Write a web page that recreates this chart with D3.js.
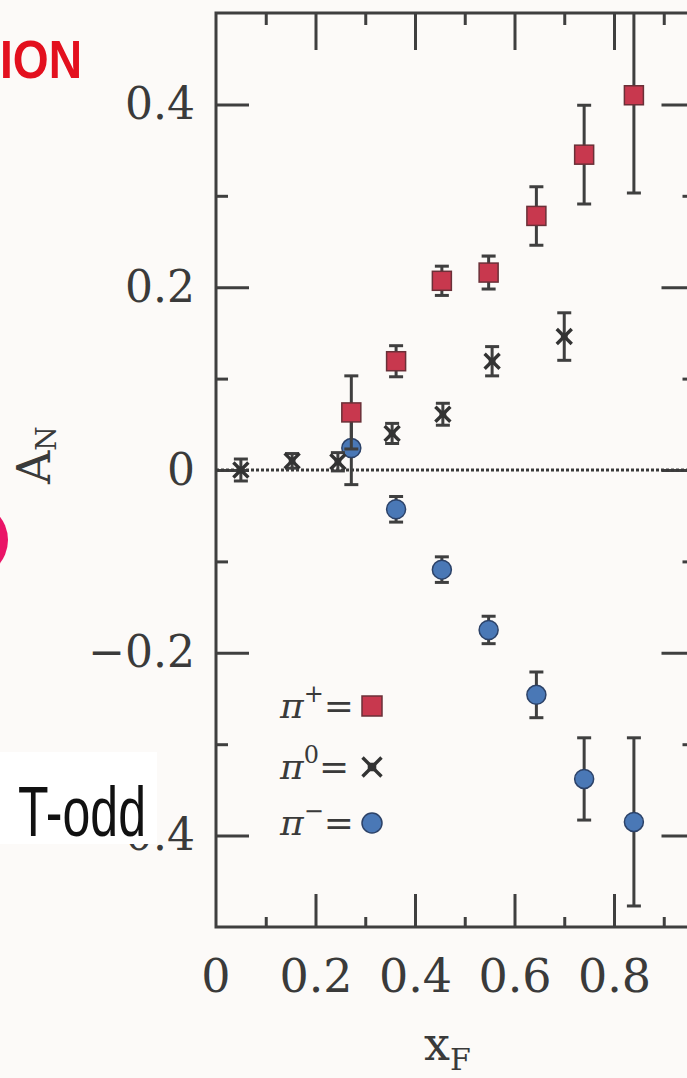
<!DOCTYPE html>
<html lang="en">
<head>
<meta charset="utf-8">
<title>A_N vs x_F</title>
<script src="https://cdn.jsdelivr.net/npm/d3@7"></script>
<style>
  body { margin: 0; background: #fcfaf8; }
  svg { display: block; }
  .tick line { stroke: #3f3f3f; stroke-width: 3; }
  .tick text { font-family: "DejaVu Serif", serif; fill: #3a3a3a; }
</style>
</head>
<body>
<div id="chart"></div>
<script>
// data
const xPi = [0.272, 0.362, 0.454, 0.548, 0.644, 0.74, 0.84];
const piPlus = [0.063, 0.119, 0.207, 0.216, 0.278, 0.345, 0.41];
const piPlusErr = [0.04, 0.017, 0.016, 0.018, 0.032, 0.054, 0.107];
const piMinus = [0.024, -0.043, -0.109, -0.175, -0.246, -0.338, -0.385];
const piMinusErr = [0.04, 0.014, 0.014, 0.015, 0.025, 0.045, 0.092];
const xPi0 = [0.05, 0.153, 0.245, 0.354, 0.456, 0.555, 0.70];
const piZero = [0, 0.01, 0.009, 0.04, 0.061, 0.119, 0.146];
const piZeroErr = [0.012, 0.008, 0.01, 0.011, 0.012, 0.016, 0.026];

const xMajor = [0, 0.2, 0.4, 0.6, 0.8];
const xMinor = [0.1, 0.3, 0.5, 0.7, 0.9];
const yMajor = [-0.4, -0.2, 0, 0.2, 0.4];
const yMinor = [-0.3, -0.1, 0.1, 0.3];
const legendNames = ["+", "0", "\u2212"];

const width = 687, height = 1078;
const ink = "#3f3f3f";

const svg = d3.select("#chart").append("svg")
    .attr("width", width)
    .attr("height", height);

const x = d3.scaleLinear().domain([0, 1]).range([216, 713.5]);
const y = d3.scaleLinear().domain([-0.5, 0.5]).range([927, 13]);

const fmt = d => d === 0 ? "0" : d3.format(".1f")(d);

// frame
svg.append("rect")
    .attr("x", x(0)).attr("y", y(0.5))
    .attr("width", x(1) - x(0)).attr("height", y(-0.5) - y(0.5))
    .attr("fill", "none").attr("stroke", ink).attr("stroke-width", 3);

// bottom axis
svg.append("g")
    .attr("transform", `translate(0,${y(-0.5)})`)
    .call(d3.axisBottom(x).tickValues(xMajor.filter(d => d > 0)).tickSize(-33).tickPadding(32).tickFormat(fmt))
    .call(g => g.select(".domain").remove())
    .selectAll("text").attr("font-size", 46);
svg.append("g")
    .attr("transform", `translate(0,${y(-0.5)})`)
    .call(d3.axisBottom(x).tickValues(xMinor).tickSize(-10).tickFormat(""))
    .call(g => g.select(".domain").remove());
// "0" label at the corner
svg.append("text")
    .attr("x", x(0)).attr("y", y(-0.5) + 65)
    .attr("text-anchor", "middle")
    .attr("font-family", "DejaVu Serif").attr("font-size", 46).attr("fill", "#3a3a3a")
    .text(fmt(xMajor[0]));

// top axis
svg.append("g")
    .attr("transform", `translate(0,${y(0.5)})`)
    .call(d3.axisTop(x).tickValues(xMajor.filter(d => d > 0)).tickSize(-37).tickFormat(""))
    .call(g => g.select(".domain").remove());
svg.append("g")
    .attr("transform", `translate(0,${y(0.5)})`)
    .call(d3.axisTop(x).tickValues(xMinor).tickSize(-12).tickFormat(""))
    .call(g => g.select(".domain").remove());

// left axis
svg.append("g")
    .attr("transform", `translate(${x(0)},0)`)
    .call(d3.axisLeft(y).tickValues(yMajor).tickSize(-33).tickPadding(21).tickFormat(fmt))
    .call(g => g.select(".domain").remove())
    .selectAll("text").attr("font-size", 44);
svg.append("g")
    .attr("transform", `translate(${x(0)},0)`)
    .call(d3.axisLeft(y).tickValues(yMinor).tickSize(-12).tickFormat(""))
    .call(g => g.select(".domain").remove());

// right axis
svg.append("g")
    .attr("transform", `translate(${x(1)},0)`)
    .call(d3.axisRight(y).tickValues(yMajor).tickSize(-52).tickFormat(""))
    .call(g => g.select(".domain").remove());
svg.append("g")
    .attr("transform", `translate(${x(1)},0)`)
    .call(d3.axisRight(y).tickValues(yMinor).tickSize(-31).tickFormat(""))
    .call(g => g.select(".domain").remove());

// zero line
svg.append("line")
    .attr("x1", x(0)).attr("x2", x(1))
    .attr("y1", y(0)).attr("y2", y(0))
    .attr("stroke", "#3a3a3a").attr("stroke-width", 3.2)
    .attr("stroke-dasharray", "3,2");

// axis titles
const yTitle = svg.append("text")
    .attr("transform", `translate(50,484) rotate(-90)`)
    .attr("font-family", "DejaVu Serif").attr("font-size", 46).attr("fill", "#3a3a3a");
yTitle.append("tspan").text("A");
yTitle.append("tspan").attr("font-size", 28).attr("dy", 6).text("N");

const xTitle = svg.append("text")
    .attr("x", 424).attr("y", 1060)
    .attr("font-family", "DejaVu Serif").attr("font-size", 46).attr("fill", "#3a3a3a");
xTitle.append("tspan").text("x");
xTitle.append("tspan").attr("font-size", 30).attr("dy", 10).text("F");

// clip for data
svg.append("clipPath").attr("id", "plot-clip")
  .append("rect")
    .attr("x", x(0)).attr("y", y(0.5))
    .attr("width", x(1) - x(0)).attr("height", y(-0.5) - y(0.5));

const plot = svg.append("g").attr("clip-path", "url(#plot-clip)");

function errorBars(xs, vals, errs) {
    const g = plot.append("g").attr("stroke", ink).attr("stroke-width", 3);
    xs.forEach((xv, i) => {
        const cx = x(xv), lo = y(vals[i] - errs[i]), hi = y(vals[i] + errs[i]);
        g.append("line").attr("x1", cx).attr("x2", cx).attr("y1", lo).attr("y2", hi);
        g.append("line").attr("x1", cx - 7).attr("x2", cx + 7).attr("y1", lo).attr("y2", lo);
        g.append("line").attr("x1", cx - 7).attr("x2", cx + 7).attr("y1", hi).attr("y2", hi);
    });
}

function square(g, cx, cy, s) {
    g.append("rect")
        .attr("x", cx - s / 2).attr("y", cy - s / 2)
        .attr("width", s).attr("height", s)
        .attr("fill", "#c8384e").attr("stroke", "#6a3038").attr("stroke-width", 1.5);
}
function circle(g, cx, cy, r) {
    g.append("circle")
        .attr("cx", cx).attr("cy", cy).attr("r", r)
        .attr("fill", "#4a78b6").attr("stroke", "#2c4268").attr("stroke-width", 1.5);
}
function cross(g, cx, cy, s) {
    const h = s / 2;
    g.append("path")
        .attr("d", `M${cx - h},${cy - h}L${cx + h},${cy + h}M${cx - h},${cy + h}L${cx + h},${cy - h}`)
        .attr("stroke", "#333").attr("stroke-width", 3.4).attr("fill", "none");
    g.append("rect")
        .attr("x", cx - h * 0.45).attr("y", cy - h * 0.45)
        .attr("width", h * 0.9).attr("height", h * 0.9)
        .attr("fill", "#333");
}

// pi-
errorBars(xPi, piMinus, piMinusErr);
const gMinus = plot.append("g");
xPi.forEach((xv, i) => circle(gMinus, x(xv), y(piMinus[i]), 9.5));

// pi0
errorBars(xPi0, piZero, piZeroErr);
const gZero = plot.append("g");
xPi0.forEach((xv, i) => cross(gZero, x(xv), y(piZero[i]), 15));

// pi+
errorBars(xPi, piPlus, piPlusErr);
const gPlus = plot.append("g");
xPi.forEach((xv, i) => square(gPlus, x(xv), y(piPlus[i]), 19));

// legend
const legend = svg.append("g");
const rowsY = [706, 767, 823];
const markers = [square, cross, circle];
const markerSize = [20, 19, 10];
legendNames.forEach((name, i) => {
    const t = legend.append("text")
        .attr("x", 280).attr("y", rowsY[i] + 12)
        .attr("font-family", "DejaVu Serif").attr("font-style", "italic")
        .attr("font-size", 36).attr("fill", "#3a3a3a");
    t.append("tspan").text("\u03c0");
    t.append("tspan").attr("font-size", 24).attr("font-style", "normal").attr("dy", -16).text(name);
    t.append("tspan").attr("font-style", "normal").attr("dy", 16).text("=");
    markers[i](legend, 372, rowsY[i], markerSize[i]);
});

// slide overlays
svg.append("text")
    .attr("x", 0).attr("y", 78)
    .attr("font-family", "Liberation Sans Narrow, Liberation Sans, sans-serif")
    .attr("font-weight", "bold").attr("font-size", 54)
    .attr("textLength", 82).attr("lengthAdjust", "spacingAndGlyphs")
    .attr("fill", "#e3101e")
    .text("ION");

svg.append("circle")
    .attr("cx", -30).attr("cy", 540).attr("r", 38)
    .attr("fill", "#ea1467");

svg.append("rect")
    .attr("x", 0).attr("y", 752)
    .attr("width", 157).attr("height", 92)
    .attr("fill", "#ffffff");
svg.append("text")
    .attr("x", 18).attr("y", 836)
    .attr("font-family", "Liberation Sans Narrow, Liberation Sans, sans-serif")
    .attr("font-size", 70)
    .attr("textLength", 128).attr("lengthAdjust", "spacingAndGlyphs")
    .attr("fill", "#111")
    .text("T-odd");
</script>
</body>
</html>
